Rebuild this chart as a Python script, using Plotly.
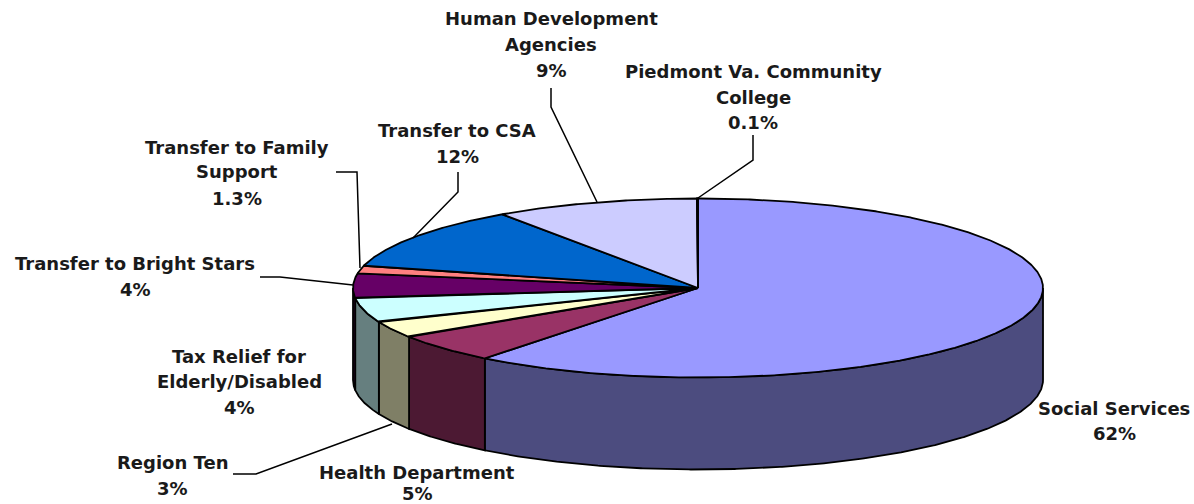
import numpy as np
import plotly.graph_objects as go

categories = ["Social Services", "Health Department", "Region Ten",
              "Tax Relief for Elderly/Disabled", "Transfer to Bright Stars",
              "Transfer to Family Support", "Transfer to CSA",
              "Human Development Agencies", "Piedmont Va. Community College"]
shares = [60.6, 5.2, 3.0, 4.4, 4.4, 1.4, 11.4, 9.55, 0.05]
top_colors = ["#9999FF", "#993366", "#FFFFCC", "#CCFFFF", "#660066",
              "#FF8080", "#0066CC", "#CCCCFF", "#000080"]
side_colors = ["#4C4C7F", "#4C1933", "#7F7F66", "#667F7F", "#330033",
               "#7F4040", "#003366", "#66667F", "#000040"]

# (lines of text, centre x, y of each line)
labels = [
    (["Social Services", "62%"], 1114, [408, 433]),
    (["Health Department", "5%"], 417, [472, 493.5]),
    (["Region Ten", "3%"], 172, [462, 488]),
    (["Tax Relief for", "Elderly/Disabled", "4%"], 239, [356, 381, 407]),
    (["Transfer to Bright Stars", "4%"], 135, [263, 289]),
    (["Transfer to Family", "Support", "1.3%"], 237, [147, 171, 198]),
    (["Transfer to CSA", "12%"], 457, [130, 156]),
    (["Human Development", "Agencies", "9%"], 551, [18, 44, 70]),
    (["Piedmont Va. Community", "College", "0.1%"], 753, [71, 97, 122]),
]
leaders = [
    ([233, 256, 392], [474, 474, 424]),
    ([260, 280, 353], [277, 277, 285]),
    ([336, 357, 360], [172, 172, 268]),
    ([458, 458, 413], [172, 192, 238]),
    ([551, 551, 597], [88, 107, 202]),
    ([753, 753, 698], [135, 160, 198]),
]

CX, CY, RX, RY, DEPTH = 698, 288, 345, 89.5, 92
LW = 1.8


def rim(a0, a1):
    t = np.radians(np.linspace(a0, a1, max(2, int(abs(a1 - a0) * 3) + 2)))
    return CX + RX * np.sin(t), CY - RY * np.cos(t)


fig = go.Figure()


def poly(x, y, color, name):
    fig.add_trace(go.Scatter(x=list(x), y=list(y), mode="lines", fill="toself",
                             fillcolor=color, name=name, hoverinfo="name",
                             line=dict(color="black", width=LW)))


edges = np.concatenate([[0], np.cumsum(shares) / sum(shares) * 360])

# Side wall: only the front half (90 to 270 degrees clockwise from the top) shows.
for i, cat in enumerate(categories):
    a0, a1 = max(edges[i], 90), min(edges[i + 1], 270)
    if a1 <= a0:
        continue
    x, y = rim(a0, a1)
    poly(np.r_[x, x[::-1], x[0]], np.r_[y, y[::-1] + DEPTH, y[0]], side_colors[i], cat)

# Top face.
for i, cat in enumerate(categories):
    x, y = rim(edges[i], edges[i + 1])
    poly(np.r_[CX, x, CX], np.r_[CY, y, CY], top_colors[i], cat)

for lx, ly in leaders:
    fig.add_trace(go.Scatter(x=lx, y=ly, mode="lines", hoverinfo="skip",
                             line=dict(color="black", width=1.5)))

for lines, cx, ys in labels:
    for text, y in zip(lines, ys):
        fig.add_annotation(x=cx, y=y, text=text, showarrow=False, xanchor="center",
                           yanchor="middle",
                           font=dict(family="DejaVu Sans", size=18, color="#1a1a1a", weight="bold"))

fig.update_layout(
    width=1194, height=504, showlegend=False, paper_bgcolor="white", plot_bgcolor="white",
    margin=dict(l=0, r=0, t=0, b=0),
    xaxis=dict(range=[0, 1194], visible=False, fixedrange=True),
    yaxis=dict(range=[504, 0], visible=False, fixedrange=True),
)
fig.write_html("out.html", config={"displayModeBar": False},
               post_script="document.body.style.margin='0';")
